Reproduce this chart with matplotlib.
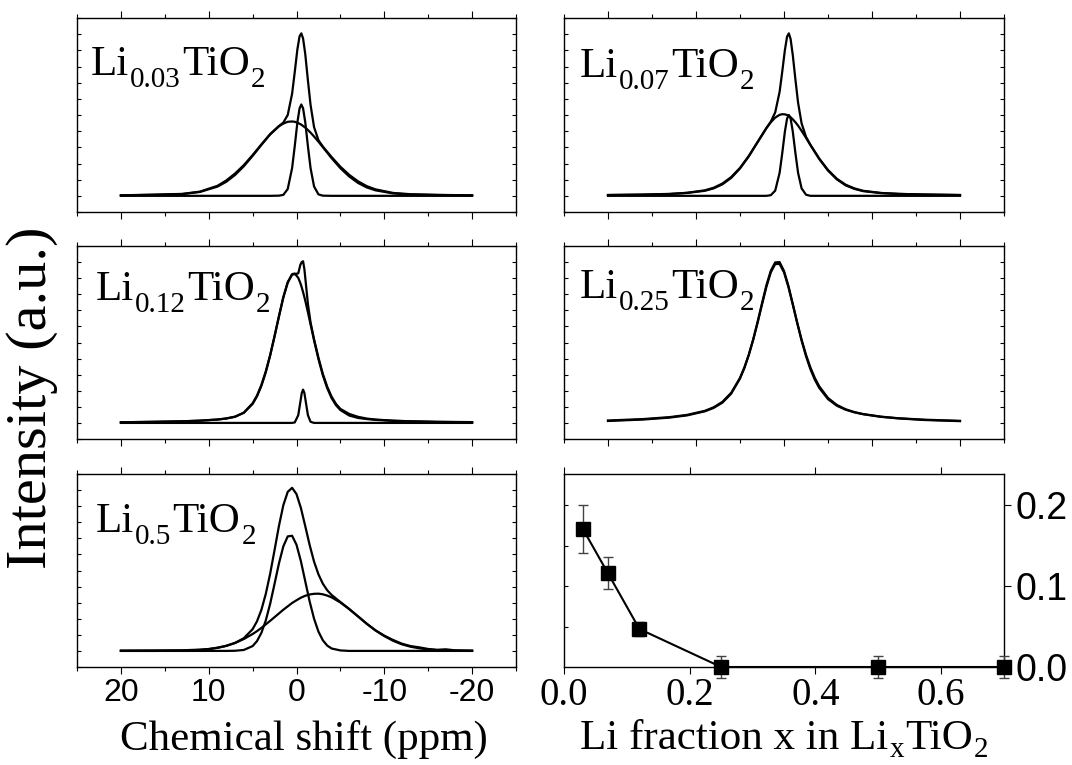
import matplotlib
matplotlib.use("Agg")
import matplotlib.pyplot as plt
from matplotlib.ticker import MultipleLocator, FixedLocator

plt.rcParams['axes.unicode_minus'] = False

SERIF = 'Liberation Serif'
SANS = 'Liberation Sans'

# ---------------- data ----------------
# chemical shift axis (ppm) and intensities (arbitrary units, baseline = 0)
ppm_ticks = [20, 10, 0, -10, -20]
ppm_tick_labels = ['20', '10', '0', '-10', '-20']

x03 = [20, 16, 13, 11, 9, 8, 7, 6, 5, 4, 3, 2, 1.5, 1, 0.5, 0.2, -0.1, -0.35, -0.55, -0.75,
       -1.0, -1.3, -1.6, -2, -2.5, -3, -4, -5, -6, -7, -8, -9, -11, -13, -16, -20]
total03 = [0.03, 0.08, 0.12, 0.26, 0.62, 0.95, 1.38, 1.90, 2.52, 3.18, 3.82, 4.32,
           4.53, 5.00, 6.32, 7.65, 9.06, 9.87, 10.05, 9.73, 8.76, 7.14, 5.63, 4.25, 3.44, 3.05,
           2.40, 1.80, 1.30, 0.90, 0.60, 0.40, 0.18, 0.10, 0.06, 0.03]
broad03 = [0.03, 0.06, 0.11, 0.24, 0.57, 0.87, 1.29, 1.83, 2.47, 3.15, 3.80, 4.30,
           4.47, 4.58, 4.60, 4.58, 4.52, 4.46, 4.40, 4.32, 4.22, 4.07, 3.91, 3.67, 3.35, 3.01,
           2.33, 1.71, 1.20, 0.80, 0.52, 0.34, 0.15, 0.08, 0.05, 0.03]
narrow03 = [0, 0, 0, 0, 0, 0, 0, 0, 0, 0, 0, 0.01,
            0.06, 0.42, 1.72, 3.07, 4.54, 5.41, 5.65, 5.41, 4.54, 3.07, 1.72, 0.58, 0.09, 0.01,
            0, 0, 0, 0, 0, 0, 0, 0, 0, 0]

x07 = [20, 16, 13, 11, 9, 8, 7, 6, 5, 4, 3, 2, 1.5, 1, 0.5, 0.2, -0.1, -0.35, -0.55, -0.75,
       -1.0, -1.3, -1.6, -2, -2.5, -3, -4, -5, -6, -7, -8, -9, -11, -13, -16, -20]
total07 = [0.05, 0.07, 0.11, 0.19, 0.34, 0.50, 0.76, 1.16, 1.73, 2.47, 3.33, 4.19,
           4.59, 5.16, 6.43, 7.68, 9.01, 9.85, 10.05, 9.70, 8.70, 7.18, 5.76, 4.48, 3.65, 3.16,
           2.31, 1.60, 1.06, 0.69, 0.46, 0.31, 0.18, 0.12, 0.08, 0.05]
broad07 = [0.05, 0.08, 0.12, 0.18, 0.31, 0.46, 0.71, 1.11, 1.69, 2.44, 3.32, 4.19,
           4.55, 4.84, 5.01, 5.05, 5.04, 5.00, 4.94, 4.86, 4.73, 4.55, 4.34, 4.02, 3.59, 3.14,
           2.28, 1.56, 1.02, 0.65, 0.43, 0.29, 0.17, 0.12, 0.08, 0.05]
narrow07 = [0, 0, 0, 0, 0, 0, 0, 0, 0, 0, 0, 0,
            0.04, 0.32, 1.42, 2.63, 3.97, 4.78, 5.00, 4.78, 3.97, 2.63, 1.42, 0.46, 0.07, 0,
            0, 0, 0, 0, 0, 0, 0, 0, 0, 0]

x12 = [20, 16, 13, 11, 9, 8, 7, 6, 5, 4.5, 4, 3.5, 3, 2.5, 2, 1.5, 1, 0.5, 0.2,
       -0.2, -0.45, -0.6, -0.75, -0.9, -1.05, -1.3, -1.6, -2, -2.5, -3, -3.5, -4, -4.5, -5,
       -6, -7, -8, -9, -11, -13, -16, -20]
total12 = [0.04, 0.07, 0.10, 0.14, 0.21, 0.27, 0.38, 0.64, 1.22,
           1.70, 2.36, 3.20, 4.22, 5.40, 6.62, 7.80, 8.72, 9.22, 9.25,
           9.30, 9.85, 10.00, 10.05, 9.55, 8.75, 7.40, 6.25, 5.20,
           4.05, 3.05, 2.25, 1.63, 1.18, 0.87,
           0.56, 0.38, 0.27, 0.21, 0.14, 0.10, 0.07, 0.05]
broad12 = [0.04, 0.07, 0.10, 0.14, 0.21, 0.28, 0.39, 0.63, 1.18,
           1.65, 2.30, 3.15, 4.19, 5.38, 6.63, 7.82, 8.75, 9.25, 9.29,
           9.02, 8.68, 8.42, 8.13, 7.82, 7.48, 6.88, 6.13, 5.13,
           3.97, 2.96, 2.16, 1.54, 1.10, 0.80,
           0.46, 0.31, 0.24, 0.19, 0.13, 0.10, 0.06, 0.04]
narrow12 = [0, 0, 0, 0, 0, 0, 0, 0, 0,
            0, 0, 0, 0, 0, 0, 0, 0, 0, 0.03,
            0.48, 1.34, 1.86, 2.07, 1.86, 1.34, 0.48, 0.07, 0,
            0, 0, 0, 0, 0, 0,
            0, 0, 0, 0, 0, 0, 0, 0]

x25 = [20, 16, 13, 11, 9, 8, 7, 6, 5, 4.5, 4, 3.5, 3, 2.5, 2, 1.5, 1, 0.5, 0,
       -0.5, -1, -1.5, -2, -2.5, -3, -3.5, -4, -5, -6, -7, -8, -9, -11, -13, -16, -20]
exp25 = [0.12, 0.21, 0.33, 0.47, 0.72, 0.93, 1.26, 1.82, 2.76,
         3.42, 4.23, 5.19, 6.28, 7.44, 8.56, 9.46, 9.98, 10.00, 9.45,
         8.52, 7.38, 6.22, 5.12, 4.15, 3.34, 2.69, 2.18,
         1.48, 1.07, 0.82, 0.66, 0.54, 0.38, 0.28, 0.18, 0.11]
fit25 = [0.15, 0.24, 0.36, 0.50, 0.75, 0.97, 1.31, 1.87, 2.80,
         3.45, 4.24, 5.17, 6.23, 7.36, 8.46, 9.36, 9.88, 9.88, 9.36,
         8.46, 7.36, 6.23, 5.17, 4.24, 3.45, 2.80, 2.28,
         1.55, 1.12, 0.85, 0.67, 0.55, 0.39, 0.29, 0.20, 0.13]

x50 = [20, 16, 13, 11, 10, 9, 8, 7, 6, 5, 4.5, 4, 3.5, 3, 2.5, 2, 1.5, 1, 0.5, 0,
       -0.5, -1, -1.5, -2, -2.5, -3, -3.5, -4, -5, -6, -7, -8, -9, -10, -11, -12, -13,
       -14, -15, -16, -17, -18, -20]
total50 = [0.02, 0.03, 0.04, 0.08, 0.12, 0.20, 0.32, 0.50, 0.79, 1.35,
           1.84, 2.55, 3.54, 4.80, 6.27, 7.77, 9.06, 9.89, 10.14, 9.75,
           8.89, 7.75, 6.58, 5.55, 4.76, 4.18, 3.77, 3.48,
           3.04, 2.61, 2.15, 1.69, 1.28, 0.95, 0.68, 0.45, 0.30, 0.22, 0.12, 0.07, 0.10, 0.04,
           0.02]
comp1_50 = [0, 0, 0, 0, 0, 0, 0, 0.01, 0.06, 0.30,
            0.61, 1.12, 1.89, 2.93, 4.17, 5.44, 6.50, 7.12, 7.16, 6.60,
            5.58, 4.32, 3.07, 2.00, 1.20, 0.66, 0.33, 0.15,
            0.03, 0, 0, 0, 0, 0, 0, 0, 0, 0, 0, 0, 0, 0,
            0]
comp2_50 = [0, 0, 0.02, 0.06, 0.11, 0.19, 0.31, 0.49, 0.74, 1.05,
            1.23, 1.43, 1.65, 1.87, 2.10, 2.33, 2.56, 2.77, 2.98, 3.15,
            3.31, 3.43, 3.51, 3.55, 3.56, 3.52, 3.44, 3.33,
            3.01, 2.60, 2.15, 1.69, 1.27, 0.92, 0.63, 0.41, 0.26, 0.16, 0.09, 0.05, 0.03, 0.01,
            0]

# sample names: Li_{x}TiO_2 (subscript strings)
li_subs = ['0.03', '0.07', '0.12', '0.25', '0.5']

# fraction of the narrow component vs Li content
li_x = [0.03, 0.07, 0.12, 0.25, 0.5, 0.7]
frac = [0.171, 0.116, 0.047, 0.0, 0.0, 0.0]
frac_err = [0.030, 0.020, 0.009, 0.014, 0.014, 0.014]
frac_xticks = [0.0, 0.2, 0.4, 0.6]
frac_xtick_labels = ['0.0', '0.2', '0.4', '0.6']
frac_yticks = [0.0, 0.1, 0.2]
frac_ytick_labels = ['0.0', '0.1', '0.2']

# ---------------- figure ----------------
W, H = 1072, 765
fig = plt.figure(figsize=(W / 100, H / 100), dpi=100)
renderer = fig.canvas.get_renderer()


def add_ax(l, t, r, b):
    return fig.add_axes([l / W, 1 - b / H, (r - l) / W, (b - t) / H])


def compose(x_px, y_px, parts, main_size=31, sub_size=21, drop=12, gap=1.0):
    """Write text pieces side by side; subscripts are smaller and lowered."""
    x = x_px
    for text, is_sub in parts:
        size = sub_size if is_sub else main_size
        yb = y_px + (drop if is_sub else 0)
        t = fig.text(x / W, 1 - yb / H, text, fontsize=size, family=SERIF,
                     ha='left', va='baseline')
        x += t.get_window_extent(renderer).width + gap
    return x


def spectrum_panel(ax, x, curves, show_xlabels):
    for y in curves:
        ax.plot(x, y, color='black', lw=1.6, solid_joinstyle='round')
    ax.set_xlim(25, -25)
    ax.set_ylim(-1, 11)
    if show_xlabels:
        ax.set_xticks(ppm_ticks, labels=ppm_tick_labels, fontsize=23, family=SANS)
    else:
        ax.set_xticks(ppm_ticks)
        ax.tick_params(axis='x', labelbottom=False)
    ax.xaxis.set_minor_locator(MultipleLocator(5))
    ax.yaxis.set_major_locator(MultipleLocator(1))
    ax.tick_params(axis='x', which='major', direction='out', length=5, width=0.8,
                   top=True, bottom=True, pad=3)
    ax.tick_params(axis='x', which='minor', direction='out', length=3, width=0.8,
                   top=True, bottom=True)
    ax.tick_params(axis='y', which='both', direction='in', length=3, width=0.8,
                   left=True, right=True, labelleft=False)
    for s in ax.spines.values():
        s.set_linewidth(1.0)


ax1 = add_ax(77, 18, 516, 212)
spectrum_panel(ax1, x03, [total03, broad03, narrow03], False)
ax2 = add_ax(564, 18, 1004, 212)
spectrum_panel(ax2, x07, [total07, broad07, narrow07], False)
ax3 = add_ax(77, 246, 516, 439)
spectrum_panel(ax3, x12, [total12, broad12, narrow12], False)
ax4 = add_ax(564, 246, 1004, 439)
spectrum_panel(ax4, x25, [exp25, fit25], False)
ax5 = add_ax(77, 474, 516, 667)
spectrum_panel(ax5, x50, [total50, comp1_50, comp2_50], True)

# sample names inside the spectra panels (pixel anchor of the baseline of "Li")
name_anchor = [(91, 75), (580, 77), (96, 300), (580, 298), (96, 532)]
for sub, (px, py) in zip(li_subs, name_anchor):
    compose(px, py, [('Li', False), (sub, True), ('TiO', False), ('2', True)])

# fraction panel
ax6 = add_ax(564, 474, 1004, 667)
cont = ax6.errorbar(li_x, frac, yerr=frac_err, fmt='s-', color='black', ms=9.5, lw=1.5,
                    ecolor='#444444', elinewidth=1.0, capsize=3.5, capthick=1.0,
                    clip_on=False, zorder=3)
for art in cont.get_children():
    art.set_clip_on(False)
ax6.set_xlim(0, 0.7)
ax6.set_ylim(0, 0.239)
ax6.set_xticks(frac_xticks, labels=frac_xtick_labels, fontsize=28, family=SERIF)
ax6.tick_params(axis='x', which='major', direction='out', length=5, width=0.8,
                top=True, bottom=True, pad=2)
ax6.yaxis.tick_right()
ax6.set_yticks(frac_yticks, labels=frac_ytick_labels, fontsize=27, family=SANS)
ax6.tick_params(axis='y', which='major', direction='out', length=5, width=0.8,
                right=True, left=False, labelright=True, labelleft=False, pad=3)
ax6.yaxis.set_minor_locator(FixedLocator([0.05, 0.1, 0.15, 0.2]))
ax6.yaxis.remove_overlapping_locs = False
ax6.tick_params(axis='y', which='minor', direction='in', length=3, width=0.8,
                left=True, right=False)
for s in ax6.spines.values():
    s.set_linewidth(1.0)

# axis titles
fig.text(32 / W, 1 - 398 / H, 'Intensity (a.u.)', rotation=90, fontsize=42, family=SERIF,
         ha='center', va='center')
fig.text(304 / W, 1 - 750 / H, 'Chemical shift (ppm)', fontsize=31, family=SERIF,
         ha='center', va='baseline')
compose(580, 749, [('Li fraction x in Li', False), ('x', True), ('TiO', False), ('2', True)],
        drop=8)

fig.savefig('out.png', dpi=100)
